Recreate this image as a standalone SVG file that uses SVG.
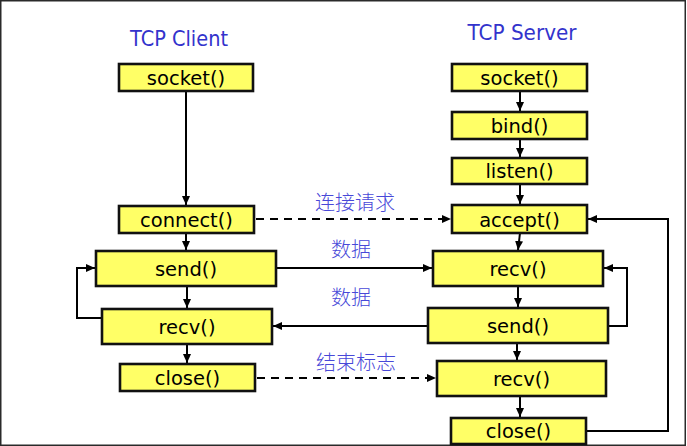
<svg xmlns="http://www.w3.org/2000/svg" width="687" height="446" viewBox="0 0 687 446">
<defs>
<marker id="arr" markerUnits="userSpaceOnUse" markerWidth="10" markerHeight="10" viewBox="0 0 10 10" refX="9" refY="5" orient="auto">
<path d="M0,1 L9,5 L0,9 Z" fill="#000"/>
</marker>
<style>
.box{fill:#ffff66;stroke:#111;stroke-width:2.6}
.lbl{font-family:"DejaVu Sans","Liberation Sans",sans-serif;font-size:19.5px;fill:#000;text-anchor:middle}
.ttl{font-family:"DejaVu Sans","Liberation Sans",sans-serif;font-size:21px;fill:#3333cc;text-anchor:middle}
.cn{font-family:"Noto Sans CJK SC","DejaVu Sans",sans-serif;font-size:20px;font-weight:300;fill:#4848d8;text-anchor:middle}
.ln{fill:none;stroke:#000;stroke-width:2}
.dash{fill:none;stroke:#000;stroke-width:2;stroke-dasharray:8 6}
</style>
</defs>
<rect x="0.75" y="0.75" width="684.5" height="444.5" fill="#fff" stroke="#2a2a2a" stroke-width="1.5"/>

<text class="ttl" x="179" y="46" textLength="98" lengthAdjust="spacingAndGlyphs">TCP Client</text>
<text class="ttl" x="522" y="40" textLength="109" lengthAdjust="spacingAndGlyphs">TCP Server</text>

<g id="connectors">
<line class="ln" x1="186" y1="92" x2="186" y2="205" marker-end="url(#arr)"/>
<line class="ln" x1="186" y1="233" x2="186" y2="250" marker-end="url(#arr)"/>
<line class="ln" x1="187" y1="286" x2="187" y2="308" marker-end="url(#arr)"/>
<line class="ln" x1="187" y1="344" x2="187" y2="363" marker-end="url(#arr)"/>
<polyline class="ln" points="102,318 77,318 77,268 95,268" marker-end="url(#arr)"/>

<line class="ln" x1="520" y1="92" x2="520" y2="111" marker-end="url(#arr)"/>
<line class="ln" x1="520" y1="140" x2="520" y2="157" marker-end="url(#arr)"/>
<line class="ln" x1="520" y1="185" x2="520" y2="204" marker-end="url(#arr)"/>
<line class="ln" x1="520" y1="233" x2="518" y2="250" marker-end="url(#arr)"/>
<line class="ln" x1="518" y1="287" x2="518" y2="307" marker-end="url(#arr)"/>
<line class="ln" x1="517" y1="344" x2="517" y2="360" marker-end="url(#arr)"/>
<line class="ln" x1="520" y1="397" x2="520" y2="417" marker-end="url(#arr)"/>
<polyline class="ln" points="608,326 627,326 627,268 604,268" marker-end="url(#arr)"/>
<polyline class="ln" points="587,431 668,431 668,219 588,219" marker-end="url(#arr)"/>

<line class="dash" x1="256" y1="219" x2="451" y2="219" marker-end="url(#arr)"/>
<line class="ln" x1="277" y1="268" x2="432" y2="268" marker-end="url(#arr)"/>
<line class="ln" x1="427" y1="326" x2="273" y2="326" marker-end="url(#arr)"/>
<line class="dash" x1="257" y1="378" x2="436" y2="378" marker-end="url(#arr)"/>
</g>

<text class="cn" x="355" y="210">连接请求</text>
<text class="cn" x="351" y="257">数据</text>
<text class="cn" x="351" y="305">数据</text>
<text class="cn" x="356" y="370">结束标志</text>

<g id="c-socket"><rect class="box" x="119" y="64" width="134" height="27"/><text class="lbl" x="186" y="84.5">socket()</text></g>
<g id="c-connect"><rect class="box" x="119" y="206" width="135" height="27"/><text class="lbl" x="186.5" y="226.5">connect()</text></g>
<g id="c-send"><rect class="box" x="96" y="251" width="180" height="35"/><text class="lbl" x="186" y="275.5">send()</text></g>
<g id="c-recv"><rect class="box" x="102" y="309" width="170" height="35"/><text class="lbl" x="187" y="333.5">recv()</text></g>
<g id="c-close"><rect class="box" x="120" y="364" width="135" height="27"/><text class="lbl" x="187.5" y="384.5">close()</text></g>

<g id="s-socket"><rect class="box" x="452" y="64" width="135" height="27"/><text class="lbl" x="519.5" y="84.5">socket()</text></g>
<g id="s-bind"><rect class="box" x="452" y="112" width="135" height="27"/><text class="lbl" x="519.5" y="132.5">bind()</text></g>
<g id="s-listen"><rect class="box" x="452" y="158" width="135" height="26"/><text class="lbl" x="519.5" y="178">listen()</text></g>
<g id="s-accept"><rect class="box" x="452" y="205" width="135" height="28"/><text class="lbl" x="519.5" y="226.5">accept()</text></g>
<g id="s-recv"><rect class="box" x="433" y="251" width="170" height="35"/><text class="lbl" x="518" y="275.5">recv()</text></g>
<g id="s-send"><rect class="box" x="428" y="308" width="180" height="35"/><text class="lbl" x="518" y="332.5">send()</text></g>
<g id="s-recv2"><rect class="box" x="437" y="361" width="169" height="35"/><text class="lbl" x="521.5" y="385.5">recv()</text></g>
<g id="s-close"><rect class="box" x="451" y="418" width="135" height="26"/><text class="lbl" x="518.5" y="438">close()</text></g>
</svg>
